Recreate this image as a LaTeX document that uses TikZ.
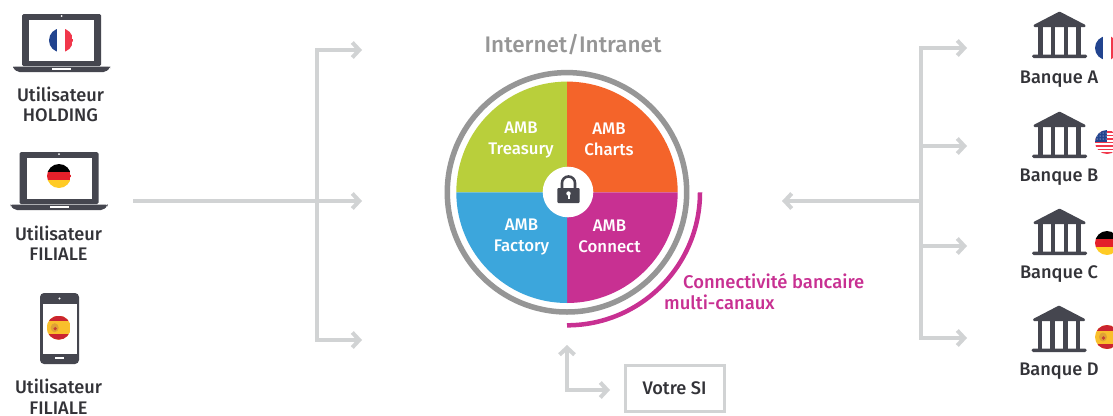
\documentclass[tikz,border=0pt]{standalone}
\usepackage{fontspec}
\setmainfont{Fira Sans}[BoldFont={Fira Sans Medium}]
\usetikzlibrary{arrows.meta}
\definecolor{iconcol}{HTML}{45464F}
\definecolor{txtcol}{HTML}{333338}
\definecolor{linkcol}{HTML}{D1D3D4}
\definecolor{ringcol}{HTML}{969696}
\definecolor{treasurycol}{HTML}{B9CF3B}
\definecolor{chartscol}{HTML}{F4642A}
\definecolor{factorycol}{HTML}{3CA6DC}
\definecolor{connectcol}{HTML}{C83092}
\definecolor{flagblue}{HTML}{22448F}
\definecolor{flagred}{HTML}{F1374B}
\definecolor{gerred}{HTML}{E3202A}
\definecolor{geryel}{HTML}{FFCB25}
\definecolor{esred}{HTML}{CB2430}
\definecolor{esyel}{HTML}{F9BF2C}
\tikzset{
    lbl/.style={font=\bfseries\fontsize{18.2}{20.5}\selectfont, text=txtcol, align=center, inner sep=0pt},
    quad/.style={font=\bfseries\fontsize{16.8}{21}\selectfont, text=white, align=center},
    link/.style={draw=linkcol, line width=4pt},
    linkarrow/.style={link, -{Straight Barb[length=7pt,width=15pt]}},
    laptop/.pic={
        \fill[iconcol, rounded corners=1.5pt] (-39.5,-26) rectangle (39.5,26);
        \fill[white] (-32.5,-20) rectangle (32.5,21);
        \fill[white] (0,-24) circle (1);
        \fill[iconcol, rounded corners=2pt] (-48.5,26.5) -- (48.5,26.5) -- (48.5,28) -- (44,32) -- (-44,32) -- (-48.5,28) -- cycle;
        \fill[white] (-9.5,27.5) rectangle (9.5,29.5);
    },
    phone/.pic={
        \fill[iconcol, rounded corners=4pt] (-19.5,-35.5) rectangle (19.5,35.5);
        \fill[white] (-17,-25) rectangle (17,25);
        \fill[white] (0,-30) circle (1.2);
        \fill[white] (-4.5,28) rectangle (4.5,30.5);
    },
    bank/.pic={
        \fill[iconcol, rounded corners=1pt] (0,-0.5) -- (26,13) -- (26,15) -- (-26,15) -- (-26,13) -- cycle;
        \foreach \colx in {-19,-6.5,6.5,19}
            \fill[iconcol] (\colx-2.3,14) rectangle (\colx+2.3,44);
        \fill[iconcol, rounded corners=1.5pt] (-27.5,42.5) rectangle (27.5,46);
    },
    frflag/.pic={
        \begin{scope}
            \clip (0,0) circle (12);
            \fill[flagblue] (-12,-12) rectangle (-4,12);
            \fill[flagred] (4,-12) rectangle (12,12);
            \fill[white] (-4,-12) rectangle (4,12);
        \end{scope}
    },
    deflag/.pic={
        \begin{scope}
            \clip (0,0) circle (12);
            \fill[black] (-12,-12) rectangle (12,-4);
            \fill[gerred] (-12,-4) rectangle (12,4);
            \fill[geryel] (-12,4) rectangle (12,12);
        \end{scope}
    },
    esflag/.pic={
        \begin{scope}
            \clip (0,0) circle (12);
            \fill[esyel] (-12,-12) rectangle (12,12);
            \fill[esred] (-12,-12) rectangle (12,-6.5);
            \fill[esred] (-12,6.5) rectangle (12,12);
            \fill[esyel!55!brown] (-4,0) ellipse (4 and 4.5);
            \fill[esred!70!brown] (-3.5,1) circle (1.8);
        \end{scope}
    },
    usflag/.pic={
        \begin{scope}
            \clip (0,0) circle (12);
            \fill[white] (-12,-12) rectangle (12,12);
            \foreach \i in {-11,-7.5,-4,-0.5,3,6.5,10}
                \fill[flagred] (-12,\i) rectangle (12,\i+1.7);
            \fill[flagblue] (-12,-12) rectangle (0,0);
            \foreach \i in {-9,-6,-3}
                \foreach \j in {-10,-7,-4,-1}
                    \fill[white] (\j,\i) circle (0.5);
        \end{scope}
    }
}
\begin{document}
\begin{tikzpicture}[x=1pt,y=-1pt]
    \useasboundingbox (0,0) rectangle (1113,415);
    \fill[white] (0,0) rectangle (1113,415);
    %% Users
    \pic at (61.5,40) {laptop};
    \pic at (61,40.3) {frflag};
    \node[lbl] (holding) at (60.5,104.5) {Utilisateur\\HOLDING};
    \pic at (59,178) {laptop};
    \pic at (59,176) {deflag};
    \node[lbl] (filialeA) at (58.5,243) {Utilisateur\\FILIALE};
    \pic at (59.5,328.5) {phone};
    \pic at (58.7,327.7) {esflag};
    \node[lbl] (filialeB) at (58.5,396.5) {Utilisateur\\FILIALE};
    %% Left links
    \coordinate (lstart) at (133,201);
    \coordinate (ljoin) at (317,201);
    \coordinate (ltop) at (317,50);
    \coordinate (lbot) at (317,340);
    \coordinate (lendA) at (362,50);
    \coordinate (lendB) at (362,201);
    \coordinate (lendC) at (362,340);
    \draw[linkarrow] (lstart) -- (lendB);
    \draw[linkarrow, line join=miter] (ljoin) -- (ltop) -- (lendA);
    \draw[linkarrow, line join=miter] (ljoin) -- (lbot) -- (lendC);
    %% Circle
    \coordinate (c) at (567,192.3);
    \fill[treasurycol] (c) -- ++(-110.7,0) arc (180:270:110.7) -- cycle;
    \fill[chartscol] (c) -- ++(0,-110.7) arc (270:360:110.7) -- cycle;
    \fill[connectcol] (c) -- ++(110.7,0) arc (0:90:110.7) -- cycle;
    \fill[factorycol] (c) -- ++(0,110.7) arc (90:180:110.7) -- cycle;
    \draw[ringcol, line width=5.5pt] (c) circle (119.7);
    \draw[connectcol, line width=4.5pt] (700,192.3) arc (0:90:133);
    \node[font=\bfseries\fontsize{22.5}{26}\selectfont, text=ringcol] (net) at (573,45) {Internet/Intranet};
    \node[quad] (treasury) at (521,140) {AMB\\Treasury};
    \node[quad] (charts) at (609,139) {AMB\\Charts};
    \node[quad] (factory) at (521.5,237) {AMB\\Factory};
    \node[quad] (connect) at (609.5,236.5) {AMB\\Connect};
    %% Lock
    \fill[white] (568,192) circle (25.3);
    \draw[iconcol, line width=2.6pt] (562,189) -- (562,183) arc (180:360:6.5) -- (575,189);
    \fill[iconcol, rounded corners=1pt] (557.3,188) rectangle (579.7,203);
    \fill[white] (568.5,193.5) circle (2.2);
    \fill[white] (567.5,194) rectangle (569.5,199);
    %% Connectivity label
    \node[font=\bfseries\fontsize{18.4}{21}\selectfont, text=connectcol, anchor=west, inner sep=0pt] (bancaire) at (683,281) {Connectivité bancaire};
    \node[font=\bfseries\fontsize{18.4}{21}\selectfont, text=connectcol, anchor=west, inner sep=0pt] (canaux) at (664,302.5) {multi-canaux};
    %% Votre SI
    \node[draw=linkcol, line width=3pt, minimum width=99pt, minimum height=46pt, lbl] (si) at (674.5,388) {Votre SI};
    \coordinate (sitop) at (567,345);
    \coordinate (sicorner) at (567,390);
    \coordinate (siend) at (610,390);
    \draw[link, {Straight Barb[length=7pt,width=15pt]}-{Straight Barb[length=7pt,width=15pt]}, line join=miter] (sitop) -- (sicorner) -- (siend);
    %% Right links
    \coordinate (rjoin) at (921,201);
    \coordinate (rtop) at (921,48);
    \coordinate (rbot) at (921,338);
    \coordinate (rin) at (782,201);
    \coordinate (rendA) at (967,48);
    \coordinate (rendB) at (967,146);
    \coordinate (rendC) at (967,246);
    \coordinate (rendD) at (967,338);
    \draw[linkarrow] (rjoin) -- (rin);
    \draw[linkarrow, line join=miter] (rjoin) -- (rtop) -- (rendA);
    \draw[linkarrow, line join=miter] (rjoin) -- (rbot) -- (rendD);
    \draw[linkarrow] (rjoin |- rendB) -- (rendB);
    \draw[linkarrow] (rjoin |- rendC) -- (rendC);
    %% Banks
    \pic at (1059.5,12) {bank};
    \pic at (1107,48) {frflag};
    \node[lbl] (bankA) at (1059,79.5) {Banque A};
    \pic at (1059.5,112) {bank};
    \pic at (1107,142) {usflag};
    \node[lbl] (bankB) at (1059,177) {Banque B};
    \pic at (1059.5,209) {bank};
    \pic at (1107,243) {deflag};
    \node[lbl] (bankC) at (1059,274) {Banque C};
    \pic at (1059,306) {bank};
    \pic at (1107,337) {esflag};
    \node[lbl] (bankD) at (1059,371) {Banque D};
\end{tikzpicture}
\end{document}
